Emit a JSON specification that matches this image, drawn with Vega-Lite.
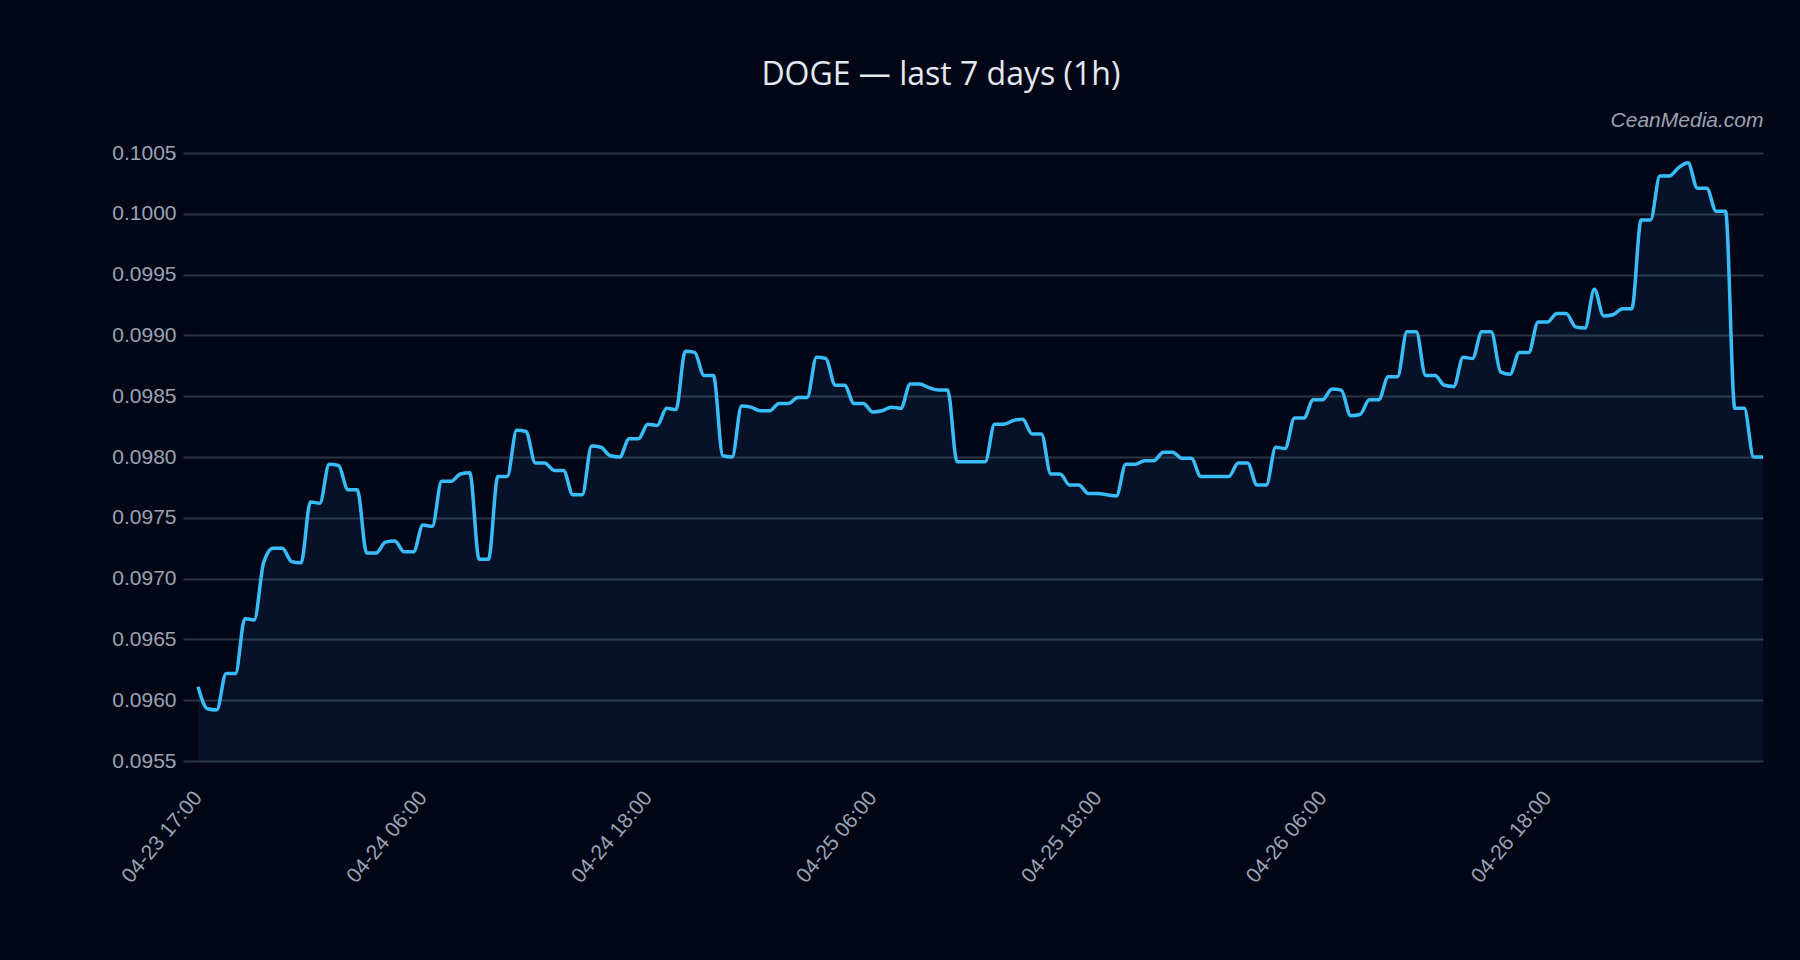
{
  "$schema": "https://vega.github.io/schema/vega-lite/v6.json",
  "width": 1565,
  "height": 608,
  "autosize": {"type": "none"},
  "padding": {"left": 198, "top": 153, "right": 37, "bottom": 199},
  "background": "#020617",
  "config": {"view": {"stroke": null}},
  "title": {
    "text": "DOGE — last 7 days (1h)",
    "anchor": "middle",
    "frame": "bounds",
    "font": "Open Sans",
    "fontSize": 32,
    "fontWeight": "normal",
    "color": "#e2e8f0",
    "offset": 17
  },
  "data": {
    "values": [
      {"step": 0, "price": 0.09611}, {"step": 1, "price": 0.09593}, {"step": 2, "price": 0.09592},
      {"step": 3, "price": 0.09622}, {"step": 4, "price": 0.09622}, {"step": 5, "price": 0.09667},
      {"step": 6, "price": 0.09666}, {"step": 7, "price": 0.09713}, {"step": 8, "price": 0.09725},
      {"step": 9, "price": 0.09725}, {"step": 10, "price": 0.09714}, {"step": 11, "price": 0.09713},
      {"step": 12, "price": 0.09763}, {"step": 13, "price": 0.09762}, {"step": 14, "price": 0.09794},
      {"step": 15, "price": 0.09793}, {"step": 16, "price": 0.09773}, {"step": 17, "price": 0.09773},
      {"step": 18, "price": 0.09721}, {"step": 19, "price": 0.09721}, {"step": 20, "price": 0.0973},
      {"step": 21, "price": 0.09731}, {"step": 22, "price": 0.09722}, {"step": 23, "price": 0.09722},
      {"step": 24, "price": 0.09744}, {"step": 25, "price": 0.09743}, {"step": 26, "price": 0.0978},
      {"step": 27, "price": 0.0978}, {"step": 28, "price": 0.09786}, {"step": 29, "price": 0.09787},
      {"step": 30, "price": 0.09716}, {"step": 31, "price": 0.09716}, {"step": 32, "price": 0.09784},
      {"step": 33, "price": 0.09784}, {"step": 34, "price": 0.09822}, {"step": 35, "price": 0.09821},
      {"step": 36, "price": 0.09795}, {"step": 37, "price": 0.09795}, {"step": 38, "price": 0.09789},
      {"step": 39, "price": 0.09789}, {"step": 40, "price": 0.09769}, {"step": 41, "price": 0.09769},
      {"step": 42, "price": 0.09809}, {"step": 43, "price": 0.09808}, {"step": 44, "price": 0.09801},
      {"step": 45, "price": 0.098}, {"step": 46, "price": 0.09815}, {"step": 47, "price": 0.09815},
      {"step": 48, "price": 0.09827}, {"step": 49, "price": 0.09826}, {"step": 50, "price": 0.0984},
      {"step": 51, "price": 0.09839}, {"step": 52, "price": 0.09887}, {"step": 53, "price": 0.09886},
      {"step": 54, "price": 0.09867}, {"step": 55, "price": 0.09867}, {"step": 56, "price": 0.09801},
      {"step": 57, "price": 0.098}, {"step": 58, "price": 0.09842}, {"step": 59, "price": 0.09841},
      {"step": 60, "price": 0.09838}, {"step": 61, "price": 0.09838}, {"step": 62, "price": 0.09844},
      {"step": 63, "price": 0.09844}, {"step": 64, "price": 0.09849}, {"step": 65, "price": 0.09849},
      {"step": 66, "price": 0.09882}, {"step": 67, "price": 0.09881}, {"step": 68, "price": 0.09859},
      {"step": 69, "price": 0.09859}, {"step": 70, "price": 0.09844}, {"step": 71, "price": 0.09844},
      {"step": 72, "price": 0.09837}, {"step": 73, "price": 0.09838}, {"step": 74, "price": 0.09841},
      {"step": 75, "price": 0.0984}, {"step": 76, "price": 0.0986}, {"step": 77, "price": 0.0986},
      {"step": 78, "price": 0.09857}, {"step": 79, "price": 0.09855}, {"step": 80, "price": 0.09855},
      {"step": 81, "price": 0.09796}, {"step": 82, "price": 0.09796}, {"step": 83, "price": 0.09796},
      {"step": 84, "price": 0.09796}, {"step": 85, "price": 0.09827}, {"step": 86, "price": 0.09827},
      {"step": 87, "price": 0.0983}, {"step": 88, "price": 0.09831}, {"step": 89, "price": 0.09819},
      {"step": 90, "price": 0.09819}, {"step": 91, "price": 0.09786}, {"step": 92, "price": 0.09786},
      {"step": 93, "price": 0.09777}, {"step": 94, "price": 0.09777}, {"step": 95, "price": 0.0977},
      {"step": 96, "price": 0.0977}, {"step": 97, "price": 0.09769}, {"step": 98, "price": 0.09768},
      {"step": 99, "price": 0.09794}, {"step": 100, "price": 0.09794}, {"step": 101, "price": 0.09797},
      {"step": 102, "price": 0.09797}, {"step": 103, "price": 0.09804}, {"step": 104, "price": 0.09804},
      {"step": 105, "price": 0.09799}, {"step": 106, "price": 0.09799}, {"step": 107, "price": 0.09784},
      {"step": 108, "price": 0.09784}, {"step": 109, "price": 0.09784}, {"step": 110, "price": 0.09784},
      {"step": 111, "price": 0.09795}, {"step": 112, "price": 0.09795}, {"step": 113, "price": 0.09777},
      {"step": 114, "price": 0.09777}, {"step": 115, "price": 0.09808}, {"step": 116, "price": 0.09807},
      {"step": 117, "price": 0.09832}, {"step": 118, "price": 0.09832}, {"step": 119, "price": 0.09847},
      {"step": 120, "price": 0.09847}, {"step": 121, "price": 0.09856}, {"step": 122, "price": 0.09855},
      {"step": 123, "price": 0.09834}, {"step": 124, "price": 0.09835}, {"step": 125, "price": 0.09847},
      {"step": 126, "price": 0.09847}, {"step": 127, "price": 0.09866}, {"step": 128, "price": 0.09866},
      {"step": 129, "price": 0.09903}, {"step": 130, "price": 0.09903}, {"step": 131, "price": 0.09867},
      {"step": 132, "price": 0.09867}, {"step": 133, "price": 0.09859}, {"step": 134, "price": 0.09858},
      {"step": 135, "price": 0.09882}, {"step": 136, "price": 0.09881}, {"step": 137, "price": 0.09903},
      {"step": 138, "price": 0.09903}, {"step": 139, "price": 0.0987}, {"step": 140, "price": 0.09868},
      {"step": 141, "price": 0.09886}, {"step": 142, "price": 0.09886}, {"step": 143, "price": 0.09911},
      {"step": 144, "price": 0.09911}, {"step": 145, "price": 0.09918}, {"step": 146, "price": 0.09918},
      {"step": 147, "price": 0.09907}, {"step": 148, "price": 0.09906}, {"step": 149, "price": 0.09938},
      {"step": 150, "price": 0.09916}, {"step": 151, "price": 0.09917}, {"step": 152, "price": 0.09922},
      {"step": 153, "price": 0.09922}, {"step": 154, "price": 0.09995}, {"step": 155, "price": 0.09995},
      {"step": 156, "price": 0.10031}, {"step": 157, "price": 0.10031}, {"step": 158, "price": 0.10038},
      {"step": 159, "price": 0.10042}, {"step": 160, "price": 0.10021}, {"step": 161, "price": 0.10021},
      {"step": 162, "price": 0.10002}, {"step": 163, "price": 0.10002}, {"step": 164, "price": 0.0984},
      {"step": 165, "price": 0.0984}, {"step": 166, "price": 0.098}, {"step": 167, "price": 0.098}
    ]
  },
  "encoding": {
    "x": {
      "field": "step",
      "type": "quantitative",
      "scale": {"domain": [0, 167], "nice": false, "zero": false},
      "axis": {
        "title": null,
        "values": [0, 24, 48, 72, 96, 120, 144],
        "labelExpr": "['04-23 17:00', '04-24 06:00', '04-24 18:00', '04-25 06:00', '04-25 18:00', '04-26 06:00', '04-26 18:00'][datum.value / 24]",
        "labelAngle": -50,
        "labelAlign": "right",
        "labelBaseline": "middle",
        "labelPadding": 33,
        "labelFont": "Liberation Sans",
        "labelFontSize": 21,
        "labelColor": "#9aa3b2",
        "grid": false,
        "ticks": false,
        "domain": false
      }
    },
    "y": {
      "field": "price",
      "type": "quantitative",
      "scale": {"domain": [0.0955, 0.1005], "nice": false, "zero": false},
      "axis": {
        "title": "CeanMedia.com",
        "titleAngle": 0,
        "titleAlign": "right",
        "titleBaseline": "alphabetic",
        "titleX": 1565,
        "titleY": -27,
        "titleFont": "Liberation Sans",
        "titleFontSize": 21,
        "titleFontStyle": "italic",
        "titleFontWeight": "normal",
        "titleColor": "#9aa3b2",
        "values": [0.0955, 0.096, 0.0965, 0.097, 0.0975, 0.098, 0.0985, 0.099, 0.0995, 0.1, 0.1005],
        "format": ".4f",
        "labelFont": "Liberation Sans",
        "labelFontSize": 21,
        "labelColor": "#9aa3b2",
        "labelPadding": 7,
        "tickSize": 15,
        "tickColor": "#2b3545",
        "tickWidth": 2,
        "gridColor": "#2b3545",
        "gridWidth": 2,
        "domain": false
      }
    }
  },
  "layer": [
    {
      "mark": {"type": "area", "interpolate": "monotone", "color": "#38bdf8", "opacity": 0.07},
      "encoding": {"y2": {"datum": 0.0955}}
    },
    {
      "mark": {"type": "line", "interpolate": "monotone", "color": "#38bdf8", "strokeWidth": 3.5}
    }
  ]
}
